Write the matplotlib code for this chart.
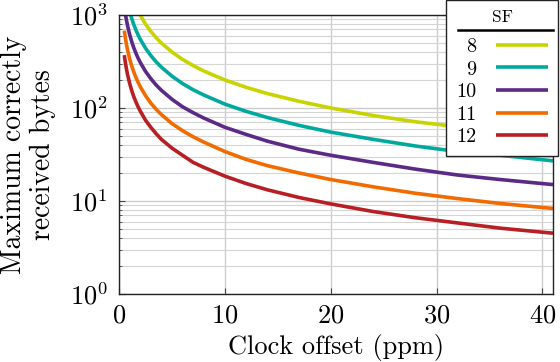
import matplotlib
matplotlib.use('Agg')
import matplotlib.pyplot as plt
from matplotlib.lines import Line2D
from matplotlib.ticker import LogLocator, NullFormatter

plt.rcParams['font.family'] = ['cmr10', 'DejaVu Serif']
plt.rcParams['mathtext.fontset'] = 'cm'
plt.rcParams['axes.formatter.use_mathtext'] = True

# values (clock offset in ppm vs max bytes)
offset = [0.5, 0.6, 0.7, 0.8, 1, 1.2, 1.4, 1.6, 1.8, 2, 2.5, 3, 3.5, 4, 5, 6, 7, 8,
          10, 12, 14, 17, 20, 24, 28, 32, 36, 41]
sf_labels = ['8', '9', '10', '11', '12']
bytes_sf8 = [4000, 3330, 2860, 2500, 2000, 1670, 1430, 1250, 1110, 1000, 800, 667, 571, 500,
             400, 333, 286, 250, 200, 167, 143, 118, 100, 83, 71, 63, 56, 49]
bytes_sf9 = [2200, 1830, 1570, 1375, 1100, 917, 786, 688, 611, 550, 440, 367, 314, 275,
             220, 183, 157, 138, 110, 92, 79, 65, 55, 46, 39, 34, 31, 27]
bytes_sf10 = [1240, 1033, 886, 775, 620, 517, 443, 388, 344, 310, 248, 207, 177, 155,
              124, 103, 89, 78, 62, 52, 44, 36, 31, 26, 22, 19, 17, 15]
bytes_sf11 = [680, 567, 486, 425, 340, 283, 243, 213, 189, 170, 136, 113, 97, 85,
              68, 57, 49, 43, 34, 28, 24, 20, 17, 14.2, 12.1, 10.6, 9.4, 8.3]
bytes_sf12 = [370, 308, 264, 231, 185, 154, 132, 116, 103, 93, 74, 62, 53, 46,
              37, 31, 26, 23, 18.5, 15.4, 13.2, 10.9, 9.3, 7.7, 6.6, 5.8, 5.1, 4.5]
colors = ['#c8d400', '#00a99d', '#5b2a86', '#f26b00', '#b81f25']

series = [bytes_sf8, bytes_sf9, bytes_sf10, bytes_sf11, bytes_sf12]

fig = plt.figure(figsize=(5.6, 3.62), dpi=100)
ax = fig.add_axes([0.2125, 0.188, 0.775, 0.7706])

for vals, lab, col in zip(series, sf_labels, colors):
    ax.plot(offset, vals, color=col, lw=2.6, label=lab, solid_capstyle='butt')

ax.set_yscale('log')
ax.set_xlim(0, 41)
ax.set_ylim(1, 1000)
ax.set_xticks([0, 10, 20, 30, 40])
ax.yaxis.set_major_locator(LogLocator(base=10, numticks=10))
ax.yaxis.set_minor_locator(LogLocator(base=10, subs=range(2, 10), numticks=20))
ax.yaxis.set_minor_formatter(NullFormatter())

ax.grid(True, which='major', color='#cccccc', lw=1)
ax.grid(True, which='minor', axis='y', color='#d5d5d5', lw=0.8)
ax.set_axisbelow(True)
ax.tick_params(which='both', direction='in', labelsize=19, color='#444444')
ax.tick_params(which='major', length=4)
ax.tick_params(axis='y', which='major', pad=8)
ax.tick_params(axis='x', which='major', pad=7)
ax.tick_params(which='minor', length=2)
for s in ax.spines.values():
    s.set_linewidth(1.0)
    s.set_color('#222222')

ax.set_xlabel('Clock offset (ppm)', fontsize=19, labelpad=5)
ax.set_ylabel('Maximum correctly\nreceived bytes', fontsize=20, labelpad=10, linespacing=1.12)

leg = ax.legend(title='SF', loc='upper right', bbox_to_anchor=(558 / 560, 1.0),
                bbox_transform=fig.transFigure, borderaxespad=0, markerfirst=False,
                fancybox=False, framealpha=1, edgecolor='#222222', fontsize=14.5,
                title_fontsize=12.5, handlelength=2.6, labelspacing=0.22,
                handletextpad=0.95, borderpad=0.5)
leg.get_frame().set_linewidth(1.0)
# extra room between the title and the entries for the rule under "SF"
leg._legend_box.sep = 9

fig.canvas.draw()
frame = leg.get_frame().get_window_extent()
tb = leg.get_title().get_window_extent()
inv = fig.transFigure.inverted()
x0, _ = inv.transform((frame.x0 + 12, 0))
x1, _ = inv.transform((frame.x1 - 5, 0))
_, yl = inv.transform((0, tb.y0 - 5))
fig.add_artist(Line2D([x0, x1], [yl, yl], transform=fig.transFigure, color='black', lw=1.8))

fig.savefig('out.png', dpi=100)
